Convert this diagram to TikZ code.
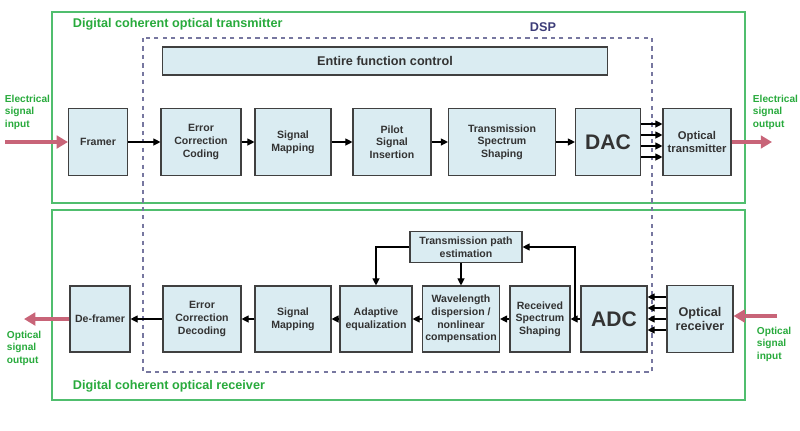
\documentclass[tikz,border=0pt]{standalone}
\usepackage{fontspec}
\setmainfont{Liberation Sans}
\usepackage{xcolor}
\usetikzlibrary{arrows.meta}
\definecolor{boxfill}{RGB}{218,236,242}
\definecolor{framegreen}{RGB}{80,190,110}
\definecolor{labgreen}{RGB}{40,170,60}
\definecolor{dspblue}{RGB}{60,60,120}
\definecolor{pink}{RGB}{200,100,120}
\tikzset{
  blk/.style={rectangle, draw=black!75, fill=boxfill, thick, align=center,
    font=\fontsize{7.5}{9}\selectfont\bfseries, text=black!80, inner sep=1pt},
  sig/.style={-{Triangle[length=5pt,width=5pt]}, thick},
  fat/.style={-{Triangle[length=8pt,width=9pt]}, line width=3pt, pink},
  side/.style={font=\fontsize{7.2}{8.8}\selectfont\bfseries, text=labgreen, align=left}
}
\begin{document}
\begin{tikzpicture}[x=0.025cm,y=-0.025cm]
    \useasboundingbox (0,0) rectangle (800,430);

    % frames
    \draw[framegreen, thick] (52,12) rectangle (745,203);
    \draw[framegreen, thick] (52,210) rectangle (745,400);
    \draw[dspblue!70, thick, dashed] (143,38) rectangle (652,372);
    \node[anchor=west, text=labgreen, font=\fontsize{9}{10}\selectfont\bfseries] (txlab) at (68,24) {Digital coherent optical transmitter};
    \node[anchor=west, text=labgreen, font=\fontsize{9}{10}\selectfont\bfseries] (rxlab) at (68,386) {Digital coherent optical receiver};
    \node[text=dspblue, font=\fontsize{9}{10}\selectfont\bfseries] (dsp) at (543,27) {DSP};

    \node[blk, minimum width=445*0.025cm, minimum height=28*0.025cm, font=\fontsize{9}{10}\selectfont\bfseries] (ctrl) at (385,61) {Entire function control};

    % transmitter row
    \node[blk, minimum width=59*0.025cm, minimum height=67*0.025cm] (framer) at (98,142) {Framer};
    \node[blk, minimum width=80*0.025cm, minimum height=67*0.025cm] (ecc) at (201,142) {Error\\Correction\\Coding};
    \node[blk, minimum width=76*0.025cm, minimum height=67*0.025cm] (smtx) at (293,142) {Signal\\Mapping};
    \node[blk, minimum width=78*0.025cm, minimum height=67*0.025cm] (pilot) at (392,142) {Pilot\\Signal\\Insertion};
    \node[blk, minimum width=107*0.025cm, minimum height=67*0.025cm] (tss) at (502,142) {Transmission\\Spectrum\\Shaping};
    \node[blk, minimum width=65*0.025cm, minimum height=67*0.025cm, font=\fontsize{15}{16}\selectfont\bfseries] (dac) at (608,142) {DAC};
    \node[blk, minimum width=68*0.025cm, minimum height=67*0.025cm, font=\fontsize{8}{9.5}\selectfont\bfseries] (otx) at (697,142) {Optical\\transmitter};

    % receiver row
    \node[blk, minimum width=60*0.025cm, minimum height=66*0.025cm] (deframer) at (100,319) {De-framer};
    \node[blk, minimum width=78*0.025cm, minimum height=66*0.025cm] (ecd) at (202,319) {Error\\Correction\\Decoding};
    \node[blk, minimum width=76*0.025cm, minimum height=66*0.025cm] (smrx) at (293,319) {Signal\\Mapping};
    \node[blk, minimum width=72*0.025cm, minimum height=66*0.025cm] (adeq) at (376,319) {Adaptive\\equalization};
    \node[blk, minimum width=77*0.025cm, minimum height=66*0.025cm] (wdnc) at (461,319) {Wavelength\\dispersion /\\nonlinear\\compensation};
    \node[blk, minimum width=60*0.025cm, minimum height=66*0.025cm] (rss) at (540,319) {Received\\Spectrum\\Shaping};
    \node[blk, minimum width=66*0.025cm, minimum height=66*0.025cm, font=\fontsize{15}{16}\selectfont\bfseries] (adc) at (614,319) {ADC};
    \node[blk, minimum width=66*0.025cm, minimum height=67*0.025cm, font=\fontsize{9}{10.5}\selectfont\bfseries] (orx) at (700,319) {Optical\\receiver};
    \node[blk, minimum width=112*0.025cm, minimum height=31*0.025cm] (tpe) at (466,247) {Transmission path\\estimation};

    % side texts
    \node[side, anchor=north west] (ein) at (0,90) {Electrical\\signal\\input};
    \node[side, anchor=north west] (eout) at (748,90) {Electrical\\signal\\output};
    \node[side, anchor=north west] (oout) at (2,326) {Optical\\signal\\output};
    \node[side, anchor=north west] (oin) at (752,322) {Optical\\signal\\input};

    % big arrows
    \coordinate (inA) at (5,142);
    \coordinate (outA) at (772,142);
    \coordinate (inB) at (777,316);
    \coordinate (outB) at (24,319);
    \draw[fat] (inA) -- (framer.west);
    \draw[fat] (otx.east) -- (outA);
    \draw[fat] (inB) -- (orx.east |- inB);
    \draw[fat] (deframer.west) -- (outB);

    % transmitter signal path
    \draw[sig] (framer) -- (ecc);
    \draw[sig] (ecc) -- (smtx);
    \draw[sig] (smtx) -- (pilot);
    \draw[sig] (pilot) -- (tss);
    \draw[sig] (tss) -- (dac);
    \foreach \yy in {124,135,146,157}
      \draw[sig] (dac.east |- 0,\yy) -- (otx.west |- 0,\yy);

    % receiver signal path
    \foreach \yy in {297,308,319,330}
      \draw[sig] (orx.west |- 0,\yy) -- (adc.east |- 0,\yy);
    \coordinate (br) at (575,319);
    \draw[sig] (adc) -- (rss);
    \draw[sig] (br) |- (tpe.east);
    \draw[sig] (tpe.west) -| (adeq.north);
    \draw[sig] (tpe.south -| wdnc.north) -- (wdnc.north);
    \draw[sig] (rss) -- (wdnc);
    \draw[sig] (wdnc) -- (adeq);
    \draw[sig] (adeq) -- (smrx);
    \draw[sig] (smrx) -- (ecd);
    \draw[sig] (ecd) -- (deframer);
\end{tikzpicture}
\end{document}
